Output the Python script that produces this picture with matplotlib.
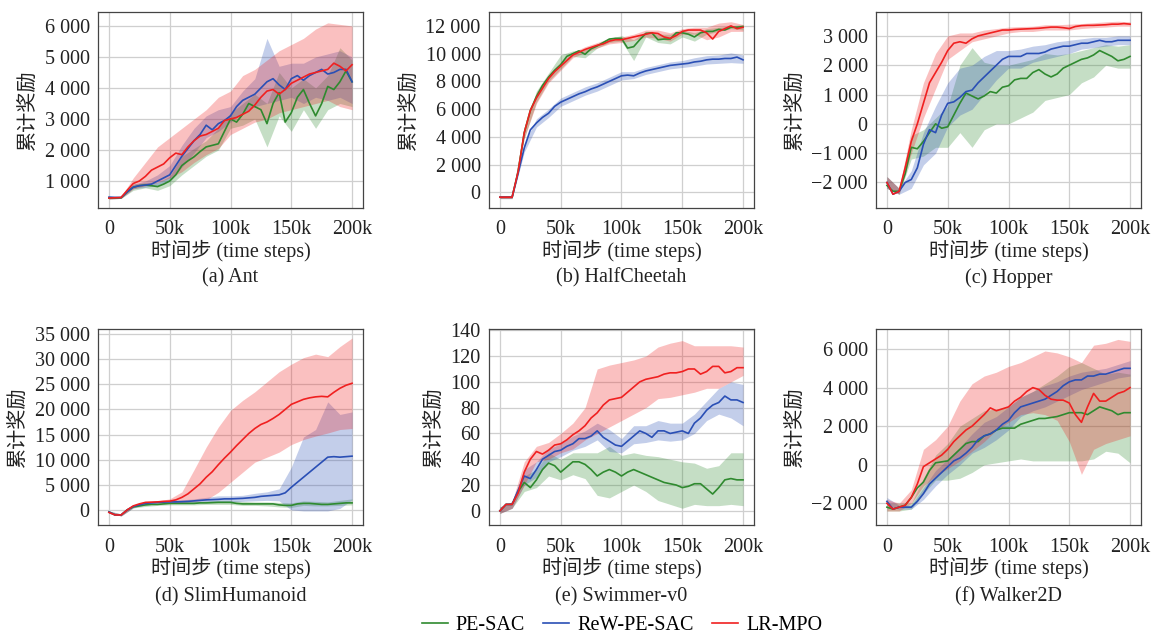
import numpy as np
import matplotlib
matplotlib.use("Agg")
from matplotlib import pyplot as plt
from matplotlib.ticker import FuncFormatter, MultipleLocator

plt.rcParams['font.family'] = ['Liberation Serif', 'Noto Sans CJK SC']
plt.rcParams['axes.unicode_minus'] = True

# x grids (thousands of time steps)
steps = np.arange(0, 201, 5)       # mean curves
band_steps = np.arange(0, 201, 10)  # shaded ranges

methods = ['PE-SAC', 'ReW-PE-SAC', 'LR-MPO']
colors = ['#2f8a2f', '#2a4fb5', '#f02020']

# ---- (a) Ant ----
ant_pe = [450, 450, 460, 650, 800, 850, 870, 850, 820, 900, 1000, 1200, 1500, 1650, 1780, 1950, 2100, 2150, 2200, 2600,
          3000, 2900, 3150, 3500, 3400, 3300, 2850, 3500, 3850, 2900, 3200, 3700, 3950, 3500, 3100, 3500, 4050, 3950, 4200, 4550, 4200]
ant_rew = [480, 470, 470, 650, 800, 850, 870, 900, 1000, 1100, 1200, 1500, 1800, 2050, 2300, 2500, 2800, 2650, 2850, 2950,
           3100, 3400, 3600, 3700, 3800, 4000, 4200, 4300, 4100, 3950, 4300, 4400, 4250, 4400, 4500, 4600, 4450, 4500, 4600, 4600, 4200]
ant_lr = [450, 460, 470, 700, 920, 1000, 1150, 1350, 1450, 1550, 1750, 1900, 1850, 2100, 2300, 2450, 2500, 2600, 2700, 2950,
          3000, 3050, 3150, 3250, 3450, 3700, 3900, 3950, 3800, 3950, 4150, 4250, 4350, 4450, 4500, 4550, 4600, 4800, 4700, 4550, 4750]
ant_pe_lo = [420, 440, 700, 780, 700, 850, 1200, 1500, 1800, 2000, 2700, 2800, 3000, 2100, 3100, 2600, 3300, 2700, 3300, 3500, 3400]
ant_pe_hi = [480, 480, 900, 950, 950, 1150, 1800, 2050, 2300, 2700, 3200, 3500, 3800, 3500, 4500, 4000, 4300, 4000, 4400, 5300, 4900]
ant_rew_lo = [420, 440, 750, 800, 850, 1000, 1450, 1900, 2400, 2600, 2900, 3200, 3400, 3500, 3600, 3700, 3500, 3700, 3600, 3700, 3500]
ant_rew_hi = [520, 500, 900, 1000, 1200, 1500, 2150, 2700, 3100, 3300, 3400, 3900, 4300, 5600, 4700, 4800, 4800, 5000, 5100, 5200, 5000]
ant_lr_lo = [420, 440, 750, 850, 950, 1100, 1300, 1600, 1850, 2050, 2500, 2700, 2900, 3000, 3200, 3300, 3400, 3500, 3600, 3400, 3300]
ant_lr_hi = [500, 500, 1100, 1600, 2100, 2400, 2700, 3000, 3300, 3700, 3900, 4400, 4600, 4900, 5200, 5400, 5600, 5900, 6100, 6050, 6000]

# ---- (b) HalfCheetah ----
hc_pe = [-350, -350, -350, 1500, 4300, 5900, 6900, 7700, 8300, 8800, 9200, 9800, 10000, 10200, 9950, 10350, 10550, 10800, 11050, 11100,
         11100, 10400, 10500, 11000, 11450, 11500, 11000, 11050, 11050, 11500, 11500, 11400, 11200, 11500, 11600, 11600, 11750, 11700, 11900, 11900, 11950]
hc_rew = [-350, -350, -350, 1400, 3200, 4500, 5000, 5400, 5700, 6200, 6500, 6700, 6900, 7100, 7250, 7450, 7600, 7800, 8000, 8200,
          8400, 8450, 8400, 8600, 8750, 8850, 8950, 9050, 9150, 9200, 9250, 9300, 9400, 9450, 9550, 9600, 9600, 9650, 9650, 9750, 9550]
hc_lr = [-350, -350, -350, 1500, 4300, 5900, 6800, 7500, 8200, 8700, 9100, 9500, 9900, 10100, 10300, 10450, 10600, 10700, 10900, 11000,
         11000, 11100, 11200, 11300, 11400, 11500, 11450, 11200, 11100, 11300, 11600, 11700, 11700, 11700, 11500, 11050, 11600, 11800, 12000, 11800, 11900]
hc_pe_lo = [-450, -450, 3900, 6500, 8000, 8900, 9800, 9700, 10400, 10800, 10900, 9500, 11200, 10800, 10700, 11200, 10900, 11400, 11600, 11800, 11700]
hc_pe_hi = [-250, -250, 4700, 7300, 8600, 9900, 10200, 10300, 10700, 11100, 11300, 11000, 11600, 11400, 11400, 11700, 11500, 11800, 11900, 12000, 12100]
hc_rew_lo = [-450, -450, 2900, 4700, 5400, 6200, 6600, 7000, 7300, 7700, 8100, 8200, 8500, 8700, 8900, 9000, 9100, 9250, 9300, 9350, 9300]
hc_rew_hi = [-250, -250, 3500, 5300, 6000, 6800, 7200, 7600, 7900, 8300, 8700, 8700, 9000, 9200, 9400, 9500, 9700, 9850, 9900, 10050, 9900]
hc_lr_lo = [-450, -450, 3900, 6400, 7900, 8800, 9700, 10100, 10400, 10700, 10800, 10950, 11200, 11100, 10900, 11400, 11400, 11000, 11200, 11600, 11600]
hc_lr_hi = [-250, -250, 4700, 7200, 8500, 9400, 10100, 10500, 10800, 11100, 11200, 11400, 11700, 11700, 11500, 11800, 11900, 11900, 12200, 12300, 12100]

# ---- (c) Hopper ----
hop_pe = [-2100, -2300, -2300, -1700, -800, -850, -600, -300, 0, -150, -100, 300, 700, 1050, 950, 850, 950, 1100, 1050, 1250,
          1300, 1500, 1550, 1550, 1750, 1850, 1700, 1600, 1700, 1900, 2000, 2100, 2200, 2250, 2350, 2500, 2400, 2300, 2150, 2200, 2300]
hop_rew = [-2000, -2400, -2300, -2000, -1900, -1500, -700, -200, -300, 300, 700, 750, 900, 1100, 1150, 1400, 1600, 1800, 2000, 2200,
           2300, 2300, 2300, 2400, 2400, 2400, 2450, 2550, 2600, 2650, 2650, 2700, 2750, 2750, 2800, 2850, 2800, 2800, 2850, 2850, 2850]
hop_lr = [-2000, -2400, -2300, -1500, -600, 0, 700, 1400, 1750, 2100, 2500, 2750, 2800, 2750, 2900, 3000, 3050, 3100, 3150, 3200,
          3200, 3220, 3230, 3240, 3250, 3260, 3280, 3300, 3300, 3280, 3250, 3320, 3350, 3360, 3360, 3370, 3380, 3400, 3400, 3420, 3400]
hop_pe_lo = [-2200, -2400, -1200, -1100, -800, -800, -300, -800, -200, 0, 0, 200, 400, 800, 900, 1000, 1400, 1600, 2000, 1900, 1900]
hop_pe_hi = [-1800, -2200, -400, -200, 200, 600, 2000, 2600, 2100, 2000, 2000, 2100, 2200, 2400, 2350, 2400, 2500, 2600, 2700, 2650, 2700]
hop_rew_lo = [-2200, -2400, -2200, -1400, -1000, -100, 300, 500, 1000, 1500, 1900, 1900, 2100, 2200, 2300, 2400, 2550, 2600, 2650, 2700, 2700]
hop_rew_hi = [-1800, -2200, -1600, -300, 600, 1400, 1900, 2000, 2300, 2500, 2500, 2550, 2650, 2700, 2800, 2850, 2900, 2950, 2950, 3000, 3000]
hop_lr_lo = [-2200, -2400, -1000, 200, 1200, 2200, 2500, 2800, 2900, 3000, 3100, 3150, 3150, 3200, 3200, 3200, 3250, 3280, 3300, 3330, 3330]
hop_lr_hi = [-1800, -2200, -200, 1400, 2400, 3000, 3100, 3100, 3200, 3250, 3300, 3320, 3330, 3380, 3380, 3400, 3420, 3450, 3480, 3500, 3480]

# ---- (d) SlimHumanoid ----
hum_pe = [-400, -1000, -1000, 0, 600, 800, 1000, 1100, 1100, 1200, 1300, 1300, 1300, 1300, 1300, 1400, 1400, 1450, 1500, 1500,
          1500, 1300, 1200, 1200, 1200, 1200, 1200, 1200, 1000, 900, 900, 1200, 1300, 1300, 1200, 1100, 1100, 1200, 1300, 1400, 1400]
hum_rew = [-400, -1000, -1000, 0, 700, 1000, 1300, 1400, 1500, 1550, 1600, 1600, 1650, 1700, 1800, 1900, 2000, 2050, 2100, 2200,
           2200, 2250, 2300, 2400, 2500, 2700, 2800, 2900, 3000, 3400, 4500, 5500, 6500, 7500, 8500, 9500, 10500, 10600, 10500, 10600, 10700]
hum_lr = [-500, -1000, -1000, 0, 800, 1200, 1500, 1550, 1600, 1700, 1750, 2000, 2500, 3200, 4200, 5200, 6500, 7600, 9000, 10300,
          11500, 12800, 14000, 15200, 16200, 17000, 17500, 18200, 19000, 20000, 21000, 21500, 22000, 22300, 22500, 22600, 22500, 23400, 24200, 24800, 25200]
hum_pe_lo = [-600, -1200, 400, 700, 900, 1000, 1000, 1000, 1100, 1100, 1100, 900, 900, 800, 600, 500, 900, 800, 800, 900, 1000]
hum_pe_hi = [-200, -800, 800, 1300, 1400, 1500, 1700, 1700, 1800, 1900, 1900, 1700, 1600, 1600, 1500, 1400, 1800, 1700, 1600, 1900, 2200]
hum_rew_lo = [-600, -1200, 400, 1000, 1200, 1300, 1300, 1400, 1500, 1500, 1600, 1700, 1800, 1900, 1800, 0, -200, -200, -200, 300, 2000]
hum_rew_hi = [-200, -800, 900, 1500, 1700, 1900, 2000, 2200, 2500, 2800, 2800, 2900, 3300, 3600, 4200, 8500, 14500, 16000, 21500, 19000, 19500]
hum_lr_lo = [-700, -1200, 500, 1300, 1500, 1500, 1500, 1700, 2000, 3500, 5500, 7500, 9500, 10500, 11500, 13000, 14000, 14700, 15300, 16000, 16200]
hum_lr_hi = [-300, -800, 1000, 1700, 1800, 2200, 3600, 8000, 12500, 16500, 19800, 21800, 23500, 25500, 27500, 29000, 30300, 31000, 30500, 32500, 34200]

# ---- (e) Swimmer-v0 ----
sw_pe = [0, 5, 5, 15, 22, 18, 24, 32, 37, 35, 30, 34, 38, 38, 36, 32, 27, 30, 32, 30,
         27, 30, 32, 30, 28, 26, 24, 22, 21, 20, 18, 19, 21, 21, 17, 13, 18, 24, 25, 24, 24]
sw_rew = [0, 5, 5, 16, 27, 25, 32, 40, 43, 46, 47, 50, 52, 56, 56, 58, 62, 57, 54, 51,
          50, 54, 58, 62, 60, 57, 62, 62, 60, 61, 62, 60, 68, 72, 78, 82, 84, 89, 86, 86, 84]
sw_lr = [0, 5, 5, 14, 30, 40, 46, 44, 47, 51, 52, 55, 59, 62, 66, 72, 76, 82, 86, 87,
         88, 92, 96, 100, 102, 103, 104, 106, 107, 107, 108, 110, 110, 106, 108, 112, 112, 107, 108, 111, 111]
sw_pe_lo = [-2, 2, 15, 18, 27, 24, 28, 25, 12, 10, 15, 20, 15, 8, 5, 2, 5, 4, 4, 5, 4]
sw_pe_hi = [3, 7, 27, 32, 45, 40, 45, 45, 45, 50, 43, 45, 43, 42, 40, 38, 37, 33, 35, 45, 45]
sw_rew_lo = [-2, 2, 20, 26, 38, 42, 47, 50, 55, 46, 45, 52, 53, 55, 54, 55, 60, 70, 75, 72, 66]
sw_rew_hi = [3, 7, 32, 38, 48, 52, 58, 62, 68, 63, 56, 66, 66, 70, 68, 68, 75, 85, 95, 100, 98]
sw_lr_lo = [-2, 2, 20, 38, 40, 45, 48, 55, 60, 65, 70, 75, 80, 87, 88, 90, 92, 95, 95, 100, 105]
sw_lr_hi = [3, 7, 38, 50, 53, 60, 68, 80, 110, 113, 115, 117, 120, 127, 130, 132, 128, 128, 128, 128, 127]

# ---- (f) Walker2D ----
wk_pe = [-2200, -2300, -2200, -2100, -1700, -1200, -900, -300, 100, 150, 200, 500, 800, 1100, 1200, 1200, 1500, 1600, 1800, 1900,
         1900, 1900, 2100, 2200, 2300, 2400, 2400, 2450, 2500, 2600, 2700, 2700, 2700, 2600, 2800, 3000, 2900, 2800, 2600, 2700, 2700]
wk_rew = [-1900, -2300, -2200, -2200, -2200, -1900, -1500, -1000, -700, -400, -100, 200, 350, 600, 900, 1300, 1500, 1600, 1800, 2100,
          2300, 2700, 3000, 3100, 3200, 3300, 3400, 3600, 3800, 4100, 4300, 4400, 4400, 4600, 4600, 4700, 4700, 4800, 4900, 5000, 5000]
wk_lr = [-2000, -2300, -2200, -2100, -1700, -1000, -100, 100, 300, 500, 800, 1200, 1500, 1800, 2000, 2300, 2600, 2950, 2800, 2900,
         3000, 3300, 3500, 3800, 4000, 3900, 3600, 3400, 3350, 3350, 3200, 2600, 2200, 3000, 3700, 3300, 3300, 3500, 3700, 3800, 4000]
wk_pe_lo = [-2400, -2400, -2300, -1500, -800, -800, -700, -400, 0, 100, 200, 300, 200, 200, 200, 200, 200, 300, 700, 600, 100]
wk_pe_hi = [-2000, -2000, -2000, -700, 500, 1100, 2000, 2400, 2800, 2900, 3000, 3500, 3800, 4200, 4600, 5100, 5300, 5000, 4700, 4800, 4700]
wk_rew_lo = [-2100, -2300, -2300, -1800, -1100, -500, 0, 600, 900, 1300, 1800, 2500, 2800, 3000, 3300, 3600, 3900, 4100, 4300, 4500, 4600]
wk_rew_hi = [-1700, -2100, -2100, -1200, -300, 300, 900, 1600, 2200, 2500, 3000, 3500, 3800, 4100, 4300, 4600, 4800, 4900, 5000, 5200, 5400]
wk_lr_lo = [-2400, -2400, -2000, -1100, -600, -200, 200, 700, 1200, 1800, 2200, 2600, 2700, 2600, 2300, 1200, -500, 800, 1100, 1300, 1500]
wk_lr_hi = [-1800, -2000, -1300, 800, 1300, 2000, 3300, 4200, 4600, 4800, 5100, 5300, 5600, 5900, 5800, 5600, 5300, 6200, 6300, 6500, 6400]

panels = [
    ("(a) Ant", [ant_pe, ant_rew, ant_lr], [(ant_pe_lo, ant_pe_hi), (ant_rew_lo, ant_rew_hi), (ant_lr_lo, ant_lr_hi)],
     (130, 6450), 1000),
    ("(b) HalfCheetah", [hc_pe, hc_rew, hc_lr], [(hc_pe_lo, hc_pe_hi), (hc_rew_lo, hc_rew_hi), (hc_lr_lo, hc_lr_hi)],
     (-1130, 13000), 2000),
    ("(c) Hopper", [hop_pe, hop_rew, hop_lr], [(hop_pe_lo, hop_pe_hi), (hop_rew_lo, hop_rew_hi), (hop_lr_lo, hop_lr_hi)],
     (-2870, 3815), 1000),
    ("(d) SlimHumanoid", [hum_pe, hum_rew, hum_lr], [(hum_pe_lo, hum_pe_hi), (hum_rew_lo, hum_rew_hi), (hum_lr_lo, hum_lr_hi)],
     (-3000, 36000), 5000),
    ("(e) Swimmer-v0", [sw_pe, sw_rew, sw_lr], [(sw_pe_lo, sw_pe_hi), (sw_rew_lo, sw_rew_hi), (sw_lr_lo, sw_lr_hi)],
     (-11, 141), 20),
    ("(f) Walker2D", [wk_pe, wk_rew, wk_lr], [(wk_pe_lo, wk_pe_hi), (wk_rew_lo, wk_rew_hi), (wk_lr_lo, wk_lr_hi)],
     (-3125, 7040), 2000),
]


def yfmt(v, pos):
    s = format(int(round(v)), ',').replace(',', ' ')
    return s.replace('-', '\u2212')


def xfmt(v, pos):
    return '0' if v == 0 else '%dk' % int(v)


FS = 14.5
fig = plt.figure(figsize=(11.55, 6.35), dpi=100)
lefts = [98, 489, 876]
tops = [12, 329]
W, H = 265, 196
sub_y = [278, 597]
lines = []

for i, (title, means, bands, ylim, ystep) in enumerate(panels):
    r, c = divmod(i, 3)
    ax = fig.add_axes([lefts[c] / 1155, 1 - (tops[r] + H) / 635, W / 1155, H / 635])
    for k in range(3):
        lo, hi = bands[k]
        ax.fill_between(band_steps, lo, hi, color=colors[k], alpha=0.28, lw=0)
    lines = []
    for k in range(3):
        ln, = ax.plot(steps, means[k], color=colors[k], lw=1.2, label=methods[k])
        lines.append(ln)
    ax.set_xlim(-9, 209)
    ax.set_ylim(*ylim)
    ax.xaxis.set_major_locator(MultipleLocator(50))
    ax.yaxis.set_major_locator(MultipleLocator(ystep))
    ax.xaxis.set_major_formatter(FuncFormatter(xfmt))
    ax.yaxis.set_major_formatter(FuncFormatter(yfmt))
    ax.grid(True, color='#cfcfcf', lw=0.9)
    ax.set_axisbelow(True)
    for sp in ax.spines.values():
        sp.set_color('#444444')
        sp.set_linewidth(0.9)
    ax.tick_params(length=0, labelsize=FS, colors='#222222')
    ax.tick_params(axis='x', pad=9)
    ax.tick_params(axis='y', pad=6)
    ax.set_xlabel('时间步 (time steps)', fontsize=FS, labelpad=0, color='#222222')
    ax.set_ylabel('累计奖励', fontsize=FS, labelpad=4, color='#222222')
    fig.text((lefts[c] + W / 2) / 1155, 1 - sub_y[r] / 635, title, ha='center', va='center',
             fontsize=FS, color='#222222')

fig.legend(lines, methods, loc='center', bbox_to_anchor=(622 / 1155, 1 - 625 / 635), ncol=3,
           frameon=False, fontsize=FS, handlelength=1.3, columnspacing=0.9, handletextpad=0.4)

fig.savefig('out.png', dpi=100)
